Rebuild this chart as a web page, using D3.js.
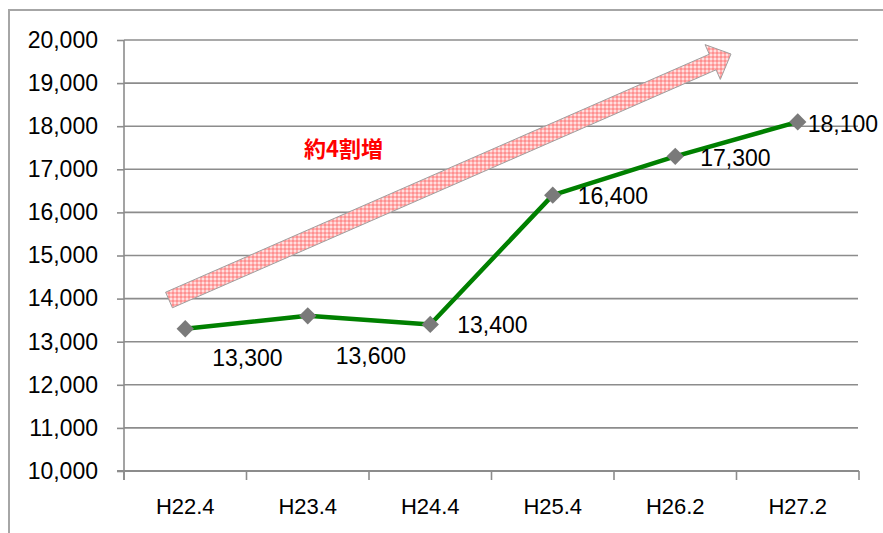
<!DOCTYPE html>
<meta charset="utf-8">
<html>
<body style="margin:0;background:#fff">
<div id="chart"></div>
<script src="https://d3js.org/d3.v7.min.js"></script>
<script type="text/javascript">

  // data
  var categories = ["H22.4", "H23.4", "H24.4", "H25.4", "H26.2", "H27.2"];
  var values = [13300, 13600, 13400, 16400, 17300, 18100];
  var yTicks = [10000, 11000, 12000, 13000, 14000, 15000, 16000, 17000, 18000, 19000, 20000];
  var note = "約4割増";

  // label placement (pixels from the point)
  var labelOffsets = [[27, 37], [28, 48], [27, 9], [25, 9], [25, 10], [10, 10]];

  var W = 883, H = 533;
  var font = "'Liberation Sans', Arial, sans-serif";

  var svg = d3.select("#chart").append("svg")
    .attr("width", W)
    .attr("height", H);

  // outer frame, runs off the right and bottom edge
  svg.append("rect")
    .attr("x", 9).attr("y", 10)
    .attr("width", 1000).attr("height", 700)
    .attr("fill", "none")
    .attr("stroke", "#a6a6a6")
    .attr("stroke-width", 2);

  var x = d3.scaleBand().domain(categories).range([124, 859]);
  var y = d3.scaleLinear().domain([10000, 20000]).range([471, 40]);

  // gridlines
  svg.selectAll("line.grid")
    .data(yTicks)
    .enter()
    .append("line")
    .attr("class", "grid")
    .attr("x1", 124).attr("x2", 858)
    .attr("y1", function (d) { return y(d); })
    .attr("y2", function (d) { return y(d); })
    .attr("stroke", "#8c8c8c")
    .attr("stroke-width", 1.6);

  // y axis
  var yAxis = svg.append("g")
    .attr("transform", "translate(124,0)")
    .call(d3.axisLeft(y).tickValues(yTicks).tickSize(7).tickPadding(19).tickFormat(d3.format(",")));
  yAxis.select(".domain").attr("stroke", "#8c8c8c").attr("stroke-width", 1.6)
    .attr("d", "M0,40V480");
  yAxis.selectAll(".tick line").attr("stroke", "#8c8c8c").attr("stroke-width", 1.6);
  yAxis.selectAll("text")
    .style("font-family", font)
    .style("font-size", "23px")
    .attr("fill", "#000");

  // x axis, ticks sit between the categories
  var xAxis = svg.append("g")
    .attr("transform", "translate(0,471)")
    .call(d3.axisBottom(x).tickSize(0).tickPadding(27));
  xAxis.select(".domain").remove();
  xAxis.selectAll("text")
    .style("font-family", font)
    .style("font-size", "22px")
    .attr("fill", "#000");

  var bounds = categories.map(function (c) { return x(c); }).concat([x.range()[1]]);
  svg.selectAll("line.xtick")
    .data(bounds)
    .enter()
    .append("line")
    .attr("class", "xtick")
    .attr("x1", function (d) { return d; })
    .attr("x2", function (d) { return d; })
    .attr("y1", 471).attr("y2", 480)
    .attr("stroke", "#8c8c8c")
    .attr("stroke-width", 1.6);
  svg.append("line")
    .attr("x1", 117).attr("x2", 859)
    .attr("y1", 471).attr("y2", 471)
    .attr("stroke", "#8c8c8c")
    .attr("stroke-width", 1.8);

  // checked pink arrow
  var defs = svg.append("defs");
  var pat = defs.append("pattern")
    .attr("id", "check")
    .attr("patternUnits", "userSpaceOnUse")
    .attr("width", 4).attr("height", 4);
  pat.append("rect").attr("width", 4).attr("height", 4).attr("fill", "#ffe0e0");
  pat.append("rect").attr("width", 2).attr("height", 4).attr("fill", "#ffb0b0");
  pat.append("rect").attr("width", 4).attr("height", 2).attr("fill", "#ffb0b0");
  pat.append("rect").attr("width", 2).attr("height", 2).attr("fill", "#ff8f8f");

  var tail = [169, 300], tip = [731, 54];
  var shaft = 17, headW = 38, headL = 20;
  var dx = tip[0] - tail[0], dy = tip[1] - tail[1];
  var len = Math.sqrt(dx * dx + dy * dy);
  var ux = dx / len, uy = dy / len, px = -uy, py = ux;
  function pt(a, b) { return [tail[0] + ux * a + px * b, tail[1] + uy * a + py * b]; }
  var arrowPts = [
    pt(0, -shaft / 2), pt(len - headL, -shaft / 2), pt(len - headL, -headW / 2),
    pt(len, 0),
    pt(len - headL, headW / 2), pt(len - headL, shaft / 2), pt(0, shaft / 2)
  ];
  svg.append("path")
    .attr("d", d3.line()(arrowPts) + "Z")
    .attr("fill", "url(#check)")
    .attr("stroke", "#a0a0a0")
    .attr("stroke-width", 1);

  svg.append("text")
    .attr("x", 304).attr("y", 157)
    .style("font-family", "'Noto Sans CJK JP', sans-serif")
    .style("font-size", "22px")
    .style("font-weight", "bold")
    .attr("fill", "#ff0000")
    .text(note);

  // series line
  var pts = categories.map(function (c, i) {
    return { c: c, v: values[i], x: x(c) + x.bandwidth() / 2, y: y(values[i]) };
  });
  svg.append("path")
    .datum(pts)
    .attr("d", d3.line().x(function (d) { return d.x; }).y(function (d) { return d.y; }))
    .attr("fill", "none")
    .attr("stroke", "#008000")
    .attr("stroke-width", 4.5)
    .attr("stroke-linejoin", "round");

  svg.selectAll("path.marker")
    .data(pts)
    .enter()
    .append("path")
    .attr("class", "marker")
    .attr("d", d3.symbol().type(d3.symbolSquare).size(150))
    .attr("transform", function (d) { return "translate(" + d.x + "," + d.y + ") rotate(45)"; })
    .attr("fill", "#7a7a7a");

  svg.selectAll("text.lbl")
    .data(pts)
    .enter()
    .append("text")
    .attr("class", "lbl")
    .attr("x", function (d, i) { return d.x + labelOffsets[i][0]; })
    .attr("y", function (d, i) { return d.y + labelOffsets[i][1]; })
    .style("font-family", font)
    .style("font-size", "23px")
    .attr("fill", "#000")
    .text(function (d) { return d3.format(",")(d.v); });
</script>
</body>
</html>
